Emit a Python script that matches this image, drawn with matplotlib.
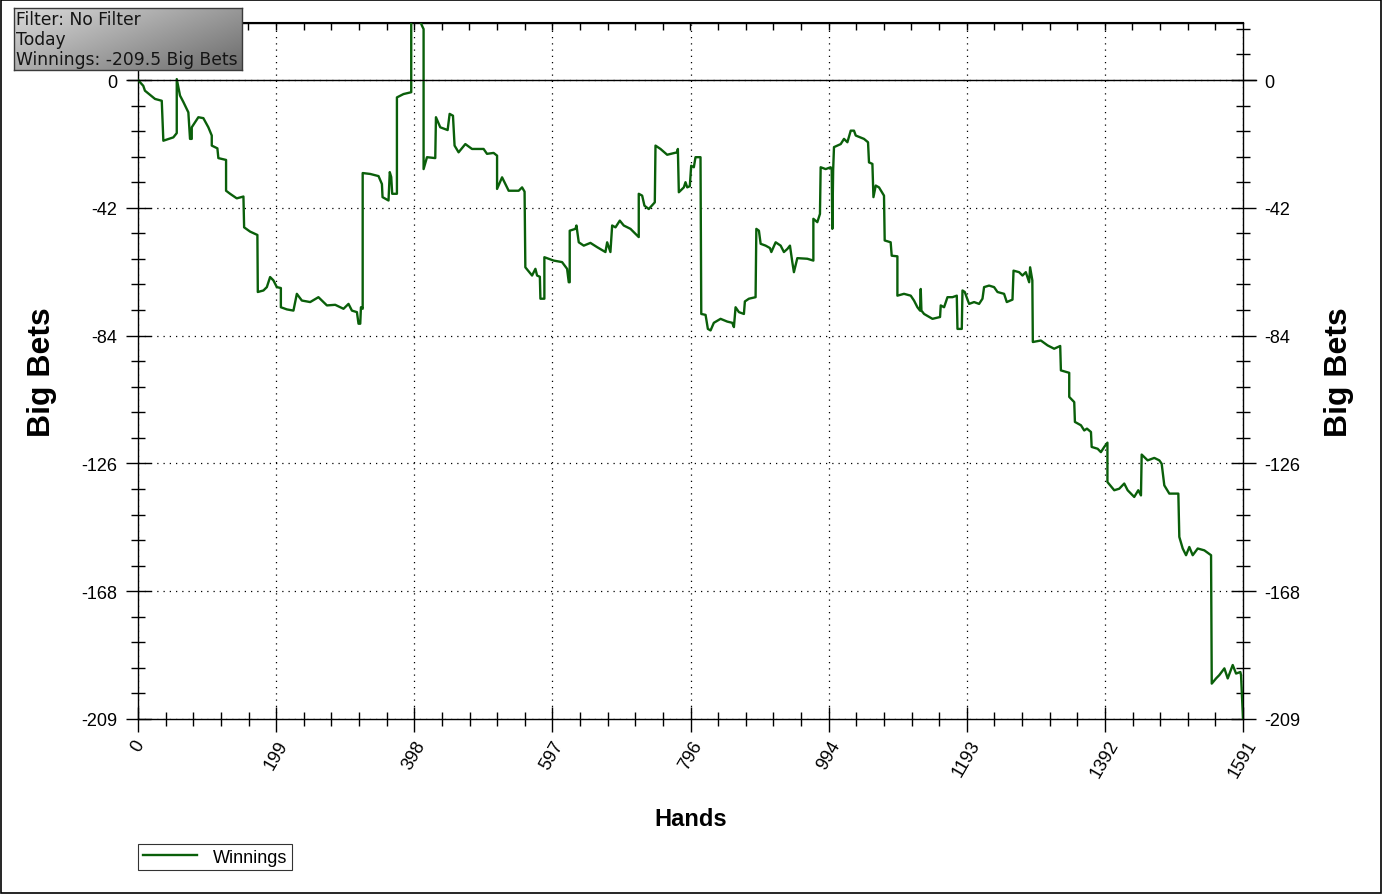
import numpy as np
import matplotlib
matplotlib.use("Agg")
import matplotlib.pyplot as plt
from matplotlib.patches import Rectangle
import matplotlib.transforms as mtransforms

# ---------------- data ----------------
hands = [0, 7.6, 10, 24.5, 34.2, 36.5, 50.9, 55.8, 55.8, 60.5, 65.3, 72.5, 74.9, 77.4, 77.4,
         86.9, 94.1, 101.3, 106.2, 106.2, 114.3, 115.7, 126.8, 126.8, 132.6, 142.2, 151.8,
         152.8, 161.4, 171.9, 172.5, 180.6, 185.5, 190.2, 195, 199.9, 205.7, 205.7, 214.3,
         223.8, 228.7, 235.9, 247.9, 259.8, 272, 283.9, 295.9, 303.1, 308, 315.2, 317.5, 320,
         321, 323.5, 323.5, 334.4, 346.3, 351.2, 352.1, 360.7, 362.5, 364.6, 366, 372.8, 372.8,
         382.3, 393.4, 393.4, 403.5, 408.9, 411.2, 411.2, 416.1, 428, 429, 435.2, 445.8, 448.7,
         453.5, 455.8, 461.6, 471.3, 480.9, 497.6, 502.5, 512, 517, 517, 524.2, 533.7, 548.1,
         553, 556.6, 557.7, 567.4, 572.2, 574.6, 578.6, 579.4, 585.1, 585.1, 598.5, 610.6,
         617.8, 620.2, 621.6, 621.6, 629.8, 631.3, 634.6, 641.8, 651.4, 661.1, 673, 675.5,
         680.2, 682.7, 687.5, 693.7, 699.4, 709.1, 718.7, 721, 721, 725.9, 729.2, 735.4, 744.1,
         745.1, 752.3, 761.9, 776.3, 777.3, 778.7, 785.9, 788.3, 790.8, 794.5, 796.5, 800.3,
         802.7, 809.9, 811, 817.2, 820.5, 824.4, 829.1, 838.8, 848.4, 855.6, 858, 860.4, 865.2,
         872.4, 873.8, 879.6, 889.2, 890.3, 894, 896.5, 903.7, 909.9, 911.9, 918.1, 925.3, 930,
         934.9, 938.7, 942.1, 944.4, 949.3, 963.7, 972.4, 972.4, 978.1, 981.9, 982.9, 990.1,
         997.3, 998.8, 999.7, 1000.9, 1002.1, 1011.8, 1016.5, 1021.4, 1026.2, 1030.9, 1033.4,
         1045.3, 1051.1, 1052.5, 1057.4, 1058.9, 1062.2, 1066.9, 1074.1, 1075.1, 1083.7,
         1085.2, 1093.4, 1093.4, 1102.9, 1112.6, 1117.3, 1122.2, 1126, 1127, 1128, 1131.8,
         1143.9, 1154.8, 1155.8, 1160.6, 1165.5, 1172.7, 1178.9, 1179.9, 1186.1, 1187.1,
         1190.4, 1196.6, 1203.8, 1211, 1215.9, 1218.2, 1225.4, 1232.6, 1237.5, 1247, 1250.9,
         1259.1, 1260.6, 1268.6, 1273.5, 1278.3, 1283.1, 1284.5, 1287.7, 1288.4, 1299.9,
         1309.6, 1319.1, 1327.8, 1328.8, 1340.8, 1340.8, 1348, 1349, 1357.7, 1362.4, 1366.3,
         1372.1, 1373.1, 1381.7, 1386.4, 1391.2, 1395.8, 1395.8, 1405.6, 1412.8, 1420, 1424.9,
         1434.4, 1440.2, 1444.1, 1445.1, 1453.7, 1463.3, 1470.5, 1473.9, 1477.7, 1484.9,
         1497.9, 1499.3, 1504.2, 1509, 1513.7, 1518.6, 1525.8, 1535.3, 1545, 1546, 1552.2,
         1556.9, 1564.2, 1569, 1576.2, 1581, 1587.2, 1588.2, 1591]

winnings = [0, -1.9, -3.5, -6.2, -6.8, -19.9, -18.8, -17.4, 0.3, -5.1, -7.2, -10.6, -19.3, -19.3,
            -15.5, -12.2, -12.5, -15.5, -18.2, -21.5, -22.4, -25.6, -26.2, -36.3, -37.3, -38.8,
            -38.2, -48.3, -49.7, -50.8, -69.5, -69.0, -67.9, -64.6, -65.7, -67.9, -68.2, -74.5,
            -75.2, -75.6, -70.1, -72.3, -72.8, -71.2, -73.9, -73.7, -75.0, -73.4, -75.6, -76.1,
            -79.9, -79.9, -74.5, -75.0, -30.5, -30.8, -31.5, -34.1, -38.4, -39.5, -30.2, -31.8,
            -37.3, -37.3, -5.7, -4.6, -4.0, 21, 21, 17.8, 16.7, -29.2, -25.3, -25.6, -12.2, -15.5,
            -16.4, -11.1, -11.7, -21.5, -23.7, -21.0, -22.6, -22.6, -24.2, -23.9, -24.8, -35.7,
            -31.9, -36.3, -36.3, -35.2, -36.6, -61.4, -64.1, -61.9, -64.1, -64.5, -71.7, -71.7,
            -58.1, -59.2, -59.7, -61.9, -66.3, -66.3, -49.4, -48.8, -47.7, -53.2, -54.3, -53.4,
            -54.8, -56.4, -53.2, -56.4, -47.7, -48.3, -46.1, -47.7, -48.8, -51.0, -51.5, -37.3,
            -37.9, -41.2, -42.3, -40.1, -21.5, -22.6, -24.5, -23.7, -22.6, -36.8, -35.2, -33.5,
            -35.2, -34.8, -28.1, -28.6, -25.3, -25.3, -76.7, -77.0, -81.6, -82.1, -79.6, -78.3,
            -79.2, -79.6, -81.0, -74.5, -76.1, -76.7, -72.6, -71.7, -71.2, -48.8, -49.4, -53.7,
            -54.3, -55.1, -56.4, -53.2, -54.3, -56.4, -55.4, -54.3, -59.7, -63.0, -58.4, -58.6,
            -59.2, -45.5, -46.6, -43.9, -28.6, -29.2, -28.6, -29.5, -48.8, -29.5, -22.0, -21.0,
            -19.3, -20.4, -16.6, -16.6, -18.2, -19.3, -20.4, -27.0, -27.5, -38.4, -34.6, -35.2,
            -37.9, -52.6, -53.2, -57.6, -57.8, -70.7, -70.1, -70.7, -72.3, -74.5, -75.6, -68.5,
            -75.6, -76.7, -78.3, -77.7, -73.9, -74.5, -71.2, -71.2, -70.7, -81.6, -81.6, -69.0,
            -69.5, -73.4, -72.8, -73.4, -71.7, -67.9, -67.4, -67.9, -69.5, -70.1, -72.8, -72.0,
            -62.5, -63.0, -64.1, -63.0, -66.3, -61.4, -65.7, -85.9, -85.4, -87.0, -88.1, -87.2,
            -95.2, -96.0, -103.9, -105.6, -112.1, -113.2, -114.9, -114.3, -115.4, -120.3, -120.9,
            -122.0, -120.3, -118.9, -131.8, -134.5, -134.0, -132.3, -134.5, -136.7, -134.5,
            -136.2, -122.8, -124.7, -123.9, -124.7, -125.8, -132.9, -135.6, -135.6, -149.8,
            -153.6, -155.8, -153.1, -155.8, -153.6, -154.2, -155.8, -197.9, -196.2, -195.1,
            -192.9, -196.2, -191.8, -194.6, -194.1, -195.2, -209.5]

x_ticks = [0, 198.875, 397.75, 596.625, 795.5, 994.375, 1193.25, 1392.125, 1591]
x_labels = ["0", "199", "398", "597", "796", "994", "1193", "1392", "1591"]
y_ticks = [0, -41.9, -83.8, -125.7, -167.6, -209.5]
y_labels = ["0", "-42", "-84", "-126", "-168", "-209"]
info_lines = ["Filter: No Filter", "Today", "Winnings: -209.5 Big Bets"]

# ---------------- figure ----------------
W, H = 1382, 895
fig = plt.figure(figsize=(W / 100, H / 100), dpi=100)
fig.patch.set_facecolor("white")
plt.rcParams["font.family"] = ["Liberation Sans", "DejaVu Sans"]

ax_l, ax_r, ax_t, ax_b = 138, 1243, 23.5, 720
ax = fig.add_axes([ax_l / W, 1 - ax_b / H, (ax_r - ax_l) / W, (ax_b - ax_t) / H])
ax.set_xlim(0, 1591)
ax.set_ylim(-209.5, 18.86)

green = "#0a5f0a"
ax.plot(hands, winnings, color=green, lw=1.7, label="Winnings", zorder=3)

ax.set_xticks(x_ticks)
ax.set_xticklabels(x_labels, rotation=60, fontsize=13)
ax.set_yticks(y_ticks)
ax.set_yticklabels(y_labels, fontsize=13)
ax.set_xticks(np.linspace(0, 1591, 41), minor=True)
ax.set_yticks(np.arange(16.76, -210, -8.38), minor=True)
ax.grid(True, which="major", color="black", linestyle=(0, (1, 4)), linewidth=0.9)

# zero line extending past the axes
tr = mtransforms.blended_transform_factory(ax.transAxes, ax.transData)
ax.plot([-0.0095, 1.012], [0, 0], color="black", lw=1.0, transform=tr, clip_on=False, zorder=4)

for s in ax.spines.values():
    s.set_color("black")
    s.set_linewidth(1.0)

ax.tick_params(axis="both", which="major", direction="inout", length=18, width=1.0,
               colors="black", labelcolor="black")
ax.tick_params(axis="both", which="minor", direction="inout", length=10, width=1.0,
               colors="black")
ax.tick_params(axis="y", which="both", left=True, right=True, labelleft=True, labelright=True,
               pad=6)
ax.tick_params(axis="x", which="both", top=False, bottom=True, pad=4)

axt = ax.secondary_xaxis("top")
axt.set_xticks(np.linspace(0, 1591, 41)[1:-1])
axt.set_xticklabels([])
axt.tick_params(direction="in", length=6, width=1.0, colors="black")

ax.set_xlabel("Hands", fontsize=17, fontweight="bold", labelpad=19)
ax.set_ylabel("Big Bets", fontsize=23, fontweight="bold", labelpad=17)
ax.text(1.087, 0.5, "Big Bets", transform=ax.transAxes, rotation=90, fontsize=23,
        fontweight="bold", ha="center", va="center")

leg = fig.legend(loc="upper left", bbox_to_anchor=(138 / W, 1 - 845 / H), frameon=True,
                 fancybox=False, fontsize=13, handlelength=3.0, handletextpad=0.9,
                 borderpad=0.25, borderaxespad=0)
leg.get_frame().set_edgecolor("black")
leg.get_frame().set_linewidth(0.8)

# info box with gray gradient
bx0, by0, bx1, by1 = 14, 9, 242, 71
iax = fig.add_axes([bx0 / W, 1 - by1 / H, (bx1 - bx0) / W, (by1 - by0) / H])
gx, gy = np.meshgrid(np.linspace(0, 1, 200), np.linspace(0, 1, 60))
shade = 0.86 - 0.26 * gx - 0.18 * gy
rgb = np.dstack([shade, shade, shade])
iax.imshow(rgb, aspect="auto", extent=[0, 1, 0, 1], origin="upper")
iax.set_xlim(0, 1)
iax.set_ylim(0, 1)
iax.set_xticks([])
iax.set_yticks([])
for s in iax.spines.values():
    s.set_color("#3a3a3a")
    s.set_linewidth(1.0)
for i, t in enumerate(info_lines):
    iax.text(0.008, 0.83 - i * 0.325, t, transform=iax.transAxes, fontsize=12.3,
             family="DejaVu Sans", color="#151515", va="center", ha="left")

fig.patches.append(Rectangle((0.0004, 0.0006), 0.9992, 0.9988, transform=fig.transFigure,
                             fill=False, edgecolor="black", linewidth=1.2))

fig.savefig("out.png", dpi=100)
